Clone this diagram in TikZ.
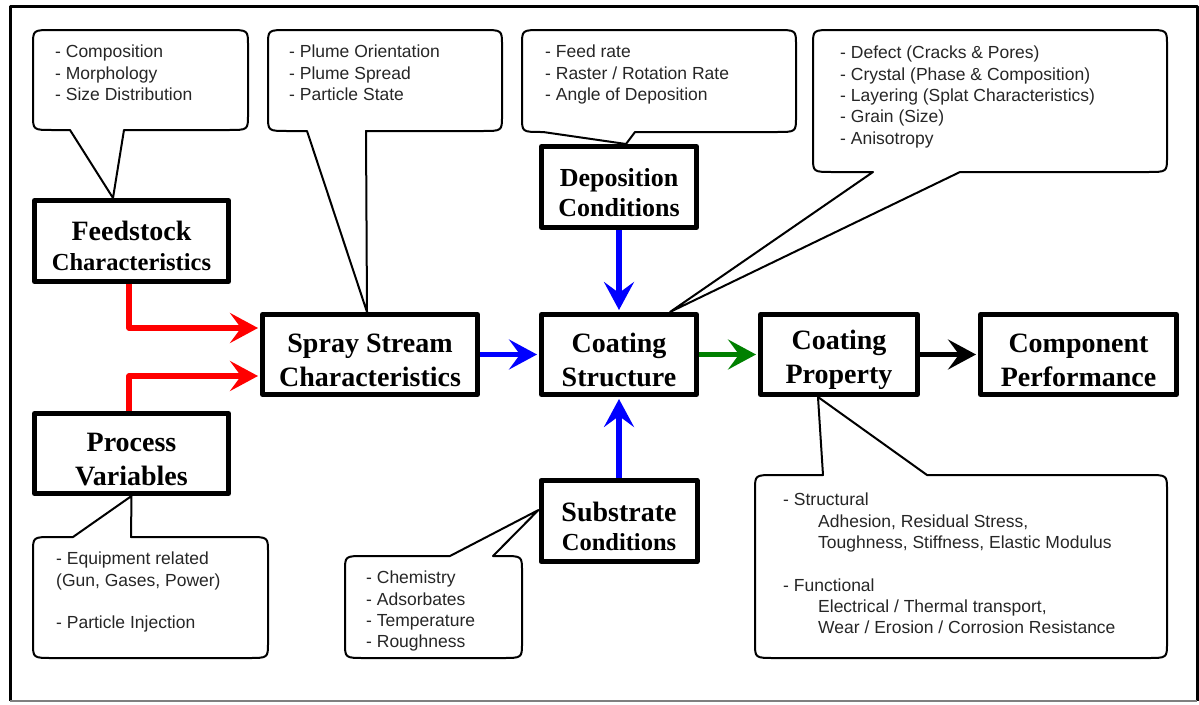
\documentclass[tikz,border=0pt]{standalone}
\usepackage{xcolor}
\usepackage{fontspec}
\setmainfont{Liberation Serif}
\newfontfamily\notefont{Liberation Sans}
\usepackage{tikz}
\usetikzlibrary{positioning,arrows.meta}

\definecolor{flowgreen}{RGB}{0,128,0}

\newcommand{\capstrut}{\rule{0pt}{30pt}}
\newcommand{\bubbledown}[7]{%
  \draw[bubble] ({(#1+#3)/2},#2) -- ({#3-20},#2) .. controls (#3,#2) .. (#3,{#2+15})
    -- (#3,{#4-15}) .. controls (#3,#4) .. ({#3-20},#4) -- (#6,#4) -- (#7) -- (#5,#4)
    -- ({#1+20},#4) .. controls (#1,#4) .. (#1,{#4-15}) -- (#1,{#2+15}) .. controls (#1,#2) .. ({#1+20},#2) -- cycle;}
\newcommand{\bubbleup}[7]{%
  \draw[bubble] ({(#1+#3)/2},#4) -- ({#1+20},#4) .. controls (#1,#4) .. (#1,{#4-15})
    -- (#1,{#2+15}) .. controls (#1,#2) .. ({#1+20},#2) -- (#5,#2) -- (#7) -- (#6,#2)
    -- ({#3-20},#2) .. controls (#3,#2) .. (#3,{#2+15}) -- (#3,{#4-15}) .. controls (#3,#4) .. ({#3-20},#4) -- cycle;}

\begin{document}
\begin{tikzpicture}[x=1pt,y=-1pt,node distance=59pt,>={Stealth[length=28pt,width=30pt,inset=11pt]},line join=round]

  \tikzstyle{factor}=[draw,line width=5pt,align=center,inner sep=0pt,minimum height=80pt,font=\bfseries\fontsize{28}{34}\selectfont]
  \tikzstyle{note}=[anchor=north west,align=left,inner sep=0pt,text=black!85,font=\notefont\fontsize{17.5}{21.3}\selectfont]
  \tikzstyle{bubble}=[draw,line width=2pt]
  \tikzstyle{flow}=[->,line width=5.5pt,shorten >=2pt]

  \useasboundingbox (0,0) rectangle (1199,704);
  \draw[line width=3pt] (10,701) -- (10,6) -- (1197,6) -- (1197,701);
  \draw[gray,line width=1.5pt] (10,701) -- (1197,701);

  \node[factor,minimum width=155pt] (struct) at (619,354.5) {\capstrut Coating\\Structure};
  \node[factor,minimum width=215pt] (spray) [left=of struct] {\capstrut Spray Stream\\Characteristics};
  \node[factor,minimum width=157pt] (prop) [right=of struct] {\capstrut Coating\\Property};
  \node[factor,minimum width=196pt] (comp) [right=58pt of prop] {\capstrut Component\\Performance};
  \node[factor,minimum width=155pt,minimum height=81pt,font=\bfseries\fontsize{26}{30}\selectfont] (depo) [above=82pt of struct] {\capstrut Deposition\\Conditions};
  \node[factor,minimum width=156pt,minimum height=81pt] (sub) [below=81pt of struct] {\capstrut Substrate\\[-5pt]{\fontsize{24.5}{28}\selectfont Conditions}};
  \node[factor,minimum width=194pt,minimum height=81pt] (feed) at (131.5,241) {\capstrut Feedstock\\[-4pt]{\fontsize{24.5}{28}\selectfont Characteristics}};
  \node[factor,minimum width=194pt] (proc) at (131.5,453.5) {\capstrut Process\\Variables};

  \bubbledown{33}{30}{248}{130}{70}{124}{[xshift=-18.5pt]feed.north}
  \bubbledown{268}{30}{502}{131}{307}{366}{[xshift=-3pt]spray.north}
  \bubbledown{522}{30}{796}{132}{543}{635}{[xshift=7pt]depo.north}
  \bubbledown{813}{30}{1167}{172}{873}{960}{[xshift=51pt]struct.north}
  \bubbleup{33}{537}{268}{658}{73}{131}{proc.south}
  \bubbleup{345}{556}{522}{658}{450}{493}{[yshift=11pt]sub.west}
  \bubbleup{755}{475}{1167}{658}{823}{927}{[xshift=-21pt]prop.south}

  \node[note] (feedNote) at (55,45) {- Composition\\- Morphology\\- Size Distribution};
  \node[note] (sprayNote) at (289,45) {- Plume Orientation\\- Plume Spread\\- Particle State};
  \node[note] (depoNote) at (545,45) {- Feed rate\\- Raster / Rotation Rate\\- Angle of Deposition};
  \node[note] (structNote) at (840,46) {- Defect (Cracks \& Pores)\\- Crystal (Phase \& Composition)\\- Layering (Splat Characteristics)\\- Grain (Size)\\- Anisotropy};
  \node[note] (procNote) at (56,552) {- Equipment related\\(Gun, Gases, Power)\\[21.3pt]- Particle Injection};
  \node[note] (subNote) at (366,571) {- Chemistry\\- Adsorbates\\- Temperature\\- Roughness};
  \node[note] (propNote) at (783,493) {- Structural\\\hspace*{35pt}Adhesion, Residual Stress,\\\hspace*{35pt}Toughness, Stiffness, Elastic Modulus\\[21.3pt]- Functional\\\hspace*{35pt}Electrical / Thermal transport,\\\hspace*{35pt}Wear / Erosion / Corrosion Resistance};

  \draw[flow,red] ([xshift=-2.5pt]feed.south) |- ([yshift=26.5pt]spray.west);
  \draw[flow,red] ([xshift=-2.5pt]proc.north) |- ([yshift=-21.5pt]spray.west);
  \draw[flow,blue] (spray) -- (struct);
  \draw[flow,blue] (depo) -- (struct);
  \draw[flow,blue] (sub) -- (struct);
  \draw[flow,flowgreen] (struct) -- (prop);
  \draw[flow,black] (prop) -- (comp);

\end{tikzpicture}
\end{document}
